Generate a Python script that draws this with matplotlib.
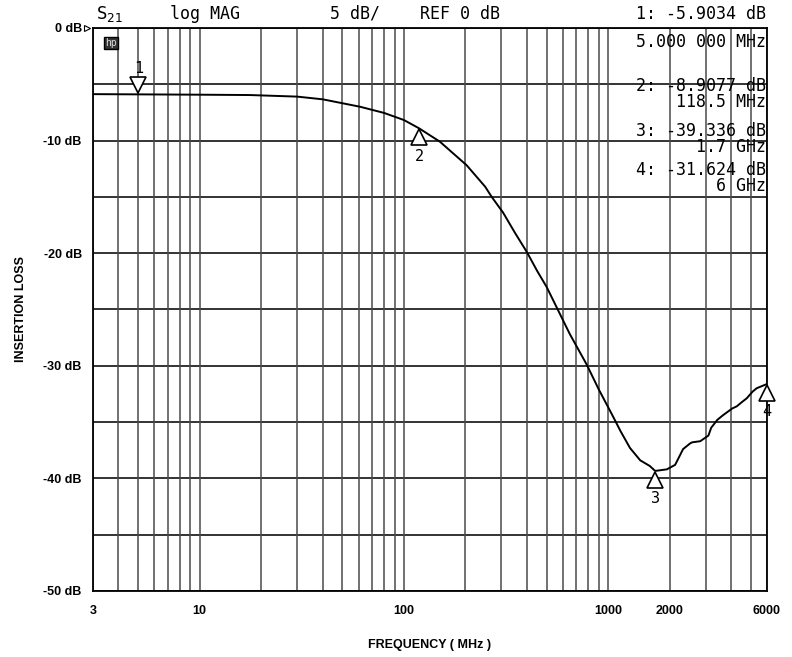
import matplotlib.pyplot as plt
from matplotlib.transforms import offset_copy

# trace
freq_mhz = [3, 5, 10, 17.6, 30, 40, 61, 80, 100, 118.5, 150, 203, 250, 269, 306,
            350, 400, 450, 500, 563, 650, 786, 900, 1050, 1150, 1280, 1437, 1600,
            1700, 1940, 2130, 2330, 2520, 2580, 2830, 2880, 3100, 3200, 3430, 3650,
            4050, 4270, 4540, 4770, 5100, 5340, 6000]
loss_db = [-5.88, -5.90, -5.93, -5.96, -6.1, -6.34, -7.0, -7.55, -8.18, -8.91, -10.1,
           -12.2, -14.1, -15.0, -16.4, -18.2, -19.9, -21.6, -23.0, -24.9, -27.2,
           -29.9, -32.1, -34.4, -35.8, -37.3, -38.4, -38.9, -39.34, -39.2, -38.8,
           -37.4, -36.9, -36.8, -36.7, -36.6, -36.2, -35.5, -34.8, -34.4, -33.8,
           -33.6, -33.2, -32.9, -32.3, -32.0, -31.62]

marker_ids = ['1', '2', '3', '4']
marker_freq = [5, 118.5, 1700, 6000]
marker_db = [-5.9034, -8.9077, -39.336, -31.624]
marker_text = ['5.000 000 MHz',
               '2: -8.9077 dB\n118.5 MHz',
               '3: -39.336 dB\n1.7 GHz',
               '4: -31.624 dB\n6 GHz']
header_marker = '1: -5.9034 dB'

xticks = [3, 10, 100, 1000, 2000, 6000]
yticks = [0, -10, -20, -30, -40, -50]

mono = 'DejaVu Sans Mono'
sans = 'Liberation Sans'
W, H = 792.0, 657.0
fig = plt.figure(figsize=(7.92, 6.57), dpi=100)
ax = fig.add_axes([0.1174, 0.1005, 0.851, 0.857])
ax.set_xscale('log')
ax.set_xlim(3, 6000)
ax.set_ylim(-50, 0)

# grid: every 5 dB and every log minor step
for y in range(-50, 1, 5):
    ax.axhline(y, color='#333333', lw=1.4, zorder=1)
grid_x = [m * 10 ** d for d in range(0, 4) for m in range(1, 10)]
grid_x = [g for g in grid_x if 3 <= g <= 6000]
for g in grid_x:
    ax.axvline(g, color='#4a4a4a', lw=1.1, zorder=1)

ax.plot(freq_mhz, loss_db, color='black', lw=1.4, zorder=3)

# markers on the trace
for i, (mid, f, v) in enumerate(zip(marker_ids, marker_freq, marker_db)):
    if i == 0:
        tr = offset_copy(ax.transData, fig=fig, y=6.5, units='points')
        ax.plot(f, v, marker='v', ms=12, mfc='white', mec='black', mew=1.2,
                transform=tr, zorder=4, clip_on=False)
        ax.annotate(mid, (f, v), xytext=(0, 19), textcoords='offset points',
                    ha='center', va='center', fontsize=11, family=mono, zorder=5)
    else:
        tr = offset_copy(ax.transData, fig=fig, y=-6.5, units='points')
        ax.plot(f, v, marker='^', ms=12, mfc='white', mec='black', mew=1.2,
                transform=tr, zorder=4, clip_on=False)
        ax.annotate(mid, (f, v), xytext=(0, -20), textcoords='offset points',
                    ha='center', va='center', fontsize=11, family=mono, zorder=5)

# marker readouts on the right
text_y = [42, 94, 139, 178]
for txt, y in zip(marker_text, text_y):
    fig.text(766 / W, 1 - y / H, txt, ha='right', va='center', ma='right',
             fontsize=12, family=mono, linespacing=0.8)

# header line
hy = 1 - 14 / H
fig.text(96 / W, hy, r'S$_{21}$', ha='left', va='center', fontsize=12.5, family=mono)
fig.text(170 / W, hy, 'log MAG', ha='left', va='center', fontsize=12, family=mono)
fig.text(330 / W, hy, '5 dB/', ha='left', va='center', fontsize=12, family=mono)
fig.text(420 / W, hy, 'REF 0 dB', ha='left', va='center', fontsize=12, family=mono)
fig.text(766 / W, hy, header_marker, ha='right', va='center', fontsize=12, family=mono)

# reference pointer and small status box
ax.plot(3, 0, marker='>', ms=5, mfc='white', mec='black', mew=0.8,
        transform=offset_copy(ax.transData, fig=fig, x=-4, units='points'),
        clip_on=False, zorder=5)
fig.text(111 / W, 1 - 43 / H, 'hp', ha='center', va='center', fontsize=7,
         color='#dddddd', family=mono,
         bbox=dict(boxstyle='square,pad=0.15', fc='#333333', ec='black'))

for s in ax.spines.values():
    s.set_color('black')
    s.set_linewidth(1.3)

ax.set_xticks(xticks)
ax.set_xticklabels([str(t) for t in xticks])
ax.xaxis.set_minor_locator(plt.NullLocator())
ax.set_yticks(yticks)
ax.set_yticklabels([f'{t} dB' for t in yticks])
ax.tick_params(length=0, labelsize=9)
ax.tick_params(axis='y', pad=8)
ax.tick_params(axis='x', pad=10)
for lab in ax.get_xticklabels() + ax.get_yticklabels():
    lab.set_fontweight('bold')
    lab.set_family(sans)

ax.set_xlabel('FREQUENCY ( MHz )', fontsize=9, fontweight='bold',
              family=sans, labelpad=16)
ax.set_ylabel('INSERTION LOSS', fontsize=9, fontweight='bold',
              family=sans, labelpad=12)

fig.savefig('out.png', dpi=100)
